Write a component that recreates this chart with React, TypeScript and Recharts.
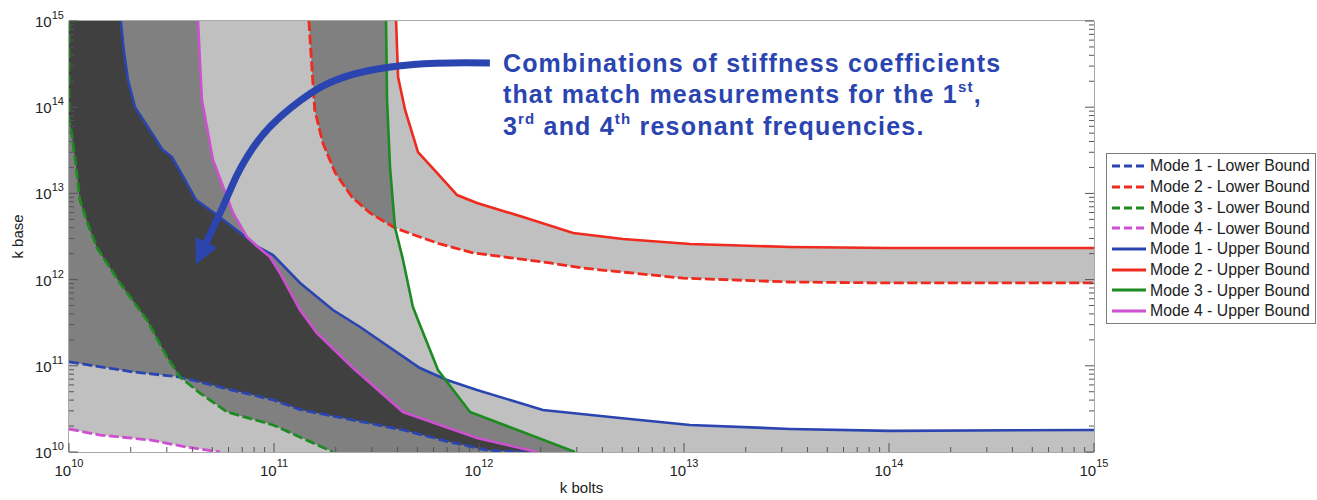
import React from "react";
import { ComposedChart, Scatter, XAxis, YAxis, Legend } from "recharts";

type Pt = [number, number];

// stiffness pairs [k bolts, k base]
const mode1Lower: Pt[] = [
  [1e10, 1.11e11], [2.05e10, 8.5e10], [3.48e10, 7.41e10], [6.3e10, 5.2e10], [1.0e11, 4.0e10],
  [1.34e11, 3.1e10], [2.43e11, 2.35e10], [4.26e11, 1.8e10], [6.8e11, 1.35e10], [1.09e12, 1.05e10], [1.68e12, 1e10],
];
const mode1Upper: Pt[] = [
  [1.79e10, 1e15], [1.85e10, 4.6e14], [1.94e10, 2.07e14], [2.1e10, 1.0e14], [2.48e10, 5.44e13], [2.87e10, 3.18e13],
  [3.18e10, 2.64e13], [3.68e10, 1.43e13], [4.17e10, 8.38e12], [5.04e10, 6.08e12], [7.38e10, 3.04e12], [8.35e10, 2.39e12],
  [9.89e10, 1.93e12], [1.34e11, 9.14e11], [1.94e11, 4.44e11], [2.63e11, 2.82e11], [5.15e11, 9.42e10], [6.98e11, 6.84e10],
  [9.78e11, 5.24e10], [2.05e12, 3.07e10], [4.87e12, 2.48e10], [1.07e13, 2.06e10], [3.29e13, 1.85e10], [1.01e14, 1.76e10],
  [1e15, 1.8e10],
];
const mode2Lower: Pt[] = [
  [1.48e11, 1e15], [1.53e11, 2.93e14], [1.58e11, 9.29e13], [1.73e11, 3.85e13], [1.99e11, 1.73e13], [2.4e11, 9.08e12],
  [2.94e11, 5.93e12], [3.89e11, 3.97e12], [5.15e11, 3.12e12], [6.45e11, 2.59e12], [9.35e11, 2.04e12], [2.22e12, 1.56e12],
  [3.21e12, 1.36e12], [9.89e12, 1.04e12], [3.29e13, 9.38e11], [1.01e14, 9.14e11], [1e15, 9.14e11],
];
const mode2Upper: Pt[] = [
  [3.94e11, 1e15], [4.03e11, 2.24e14], [4.36e11, 9.29e13], [5.04e11, 3.02e13], [6.24e11, 1.73e13], [7.82e11, 9.57e12],
  [9.78e11, 7.74e12], [1.64e12, 5.32e12], [2.88e12, 3.47e12], [5.04e12, 2.96e12], [1.07e13, 2.59e12], [3.29e13, 2.39e12],
  [1.01e14, 2.33e12], [1e15, 2.33e12],
];
const mode3Lower: Pt[] = [
  [1e10, 1e15], [1e10, 7.11e13], [1.03e10, 5.02e13], [1.08e10, 2.13e13], [1.13e10, 8.38e12], [1.24e10, 4.3e12],
  [1.37e10, 2.33e12], [1.77e10, 9.14e11], [2.4e10, 3.4e11], [3.01e10, 1.26e11], [3.48e10, 7.41e10], [4.35e10, 4.83e10],
  [5.9e10, 2.91e10], [9.89e10, 2.06e10], [1.94e11, 1e10],
];
const mode3Upper: Pt[] = [
  [3.52e11, 1e15], [3.56e11, 1.21e14], [3.68e11, 2.02e13], [3.89e11, 4.07e12], [4.26e11, 1.69e12], [4.76e11, 4.81e11],
  [5.04e11, 3.4e11], [6.31e11, 8.94e10], [9.04e11, 2.91e10], [2.94e12, 1e10],
];
const mode4Lower: Pt[] = [
  [1e10, 1.85e10], [1.42e10, 1.57e10], [2.48e10, 1.38e10], [3.76e10, 1.14e10], [5.45e10, 1e10],
];
const mode4Upper: Pt[] = [
  [4.26e10, 1e15], [4.35e10, 3.53e14], [4.45e10, 1.21e14], [5.04e10, 2.44e13], [6.31e10, 5.93e12], [7.38e10, 3.12e12],
  [8.35e10, 2.39e12], [9.56e10, 1.83e12], [1.07e11, 1.19e12], [1.34e11, 4.44e11], [1.62e11, 2.4e11], [2.43e11, 9.42e10],
  [4.26e11, 2.91e10], [9.78e11, 1.45e10], [1.92e12, 1e10],
];

// where the bounds cross each other
const crossM1M4: Pt = [8.35e10, 2.39e12];
const crossM1M3: Pt = [6.75e11, 7.2e10];
const crossM2M3: Pt = [3.89e11, 4.0e12];
const crossLow: Pt = [3.48e10, 7.41e10];

const arrowPath: Pt[] = [
  [1.13e12, 3.26e14], [6.45e11, 3.34e14], [3.56e11, 2.93e14], [2.27e11, 2.36e14], [1.55e11, 1.58e14],
  [9.25e10, 5.89e13], [6.82e10, 2.02e13], [5.64e10, 6.95e12], [4.56e10, 2.39e12],
];

const majorTicks = [1e10, 1e11, 1e12, 1e13, 1e14, 1e15];
const minorSteps = [2, 3, 4, 5, 6, 7, 8, 9];
const DOMAIN: [number, number] = [1e10, 1e15];

const BLUE = "#2b45b0";
const RED = "#ef2a1f";
const GREEN = "#1d8a22";
const MAGENTA = "#cc50cf";
const LIGHT = "#c0c0c0";
const MID = "#808080";
const DARK = "#404040";
const AXIS = "#555";
const FONT = "'Liberation Sans', Arial, sans-serif";
const DASH = "10 3.5";

const seg = (c: Pt[], lo: number, hi: number) => c.filter(([x]) => x >= lo && x <= hi);
const rev = (c: Pt[]) => [...c].reverse();
const rows = (c: Pt[]) => c.map(([x, y]) => ({ x, y }));

const regions = [
  { fill: LIGHT, points: [[1e10, 1e10], [1e10, 1e15], [1e15, 1e15], [1e15, 1e10]] as Pt[] },
  { fill: "#ffffff", points: [...mode2Upper, [1e15, 1e15]] as Pt[] },
  {
    fill: "#ffffff",
    points: [crossM2M3, ...seg(mode2Lower, 3.9e11, 1e15), ...rev(seg(mode1Upper, 6.76e11, 1e15)), crossM1M3,
      ...rev(seg(mode3Upper, 3.9e11, 6.74e11))],
  },
  { fill: "#ffffff", points: [...mode4Lower, [1e10, 1e10]] as Pt[] },
  {
    fill: MID,
    points: [[1e10, 1e15] as Pt, ...seg(mode4Upper, 0, crossM1M4[0]), ...seg(mode1Upper, crossM1M4[0], 6.74e11), crossM1M3,
      ...seg(mode3Upper, 6.76e11, 1e15), ...rev(seg(mode3Lower, crossLow[0], 1e15)), ...rev(seg(mode1Lower, 0, crossLow[0]))],
  },
  { fill: MID, points: [...seg(mode2Lower, 0, 3.89e11), crossM2M3, ...rev(seg(mode3Upper, 0, 3.88e11))] },
  {
    fill: DARK,
    points: [...seg(mode1Upper, 0, crossM1M4[0]), ...seg(mode4Upper, crossM1M4[0], 1e15),
      ...rev(seg(mode1Lower, crossLow[0], 1e15)), ...rev(seg(mode3Lower, 0, crossLow[0]))],
  },
];

const series = [
  { name: "Mode 1 - Lower Bound", points: mode1Lower, color: BLUE, dashed: true },
  { name: "Mode 2 - Lower Bound", points: mode2Lower, color: RED, dashed: true },
  { name: "Mode 3 - Lower Bound", points: mode3Lower, color: GREEN, dashed: true },
  { name: "Mode 4 - Lower Bound", points: mode4Lower, color: MAGENTA, dashed: true },
  { name: "Mode 1 - Upper Bound", points: mode1Upper, color: BLUE, dashed: false },
  { name: "Mode 2 - Upper Bound", points: mode2Upper, color: RED, dashed: false },
  { name: "Mode 3 - Upper Bound", points: mode3Upper, color: GREEN, dashed: false },
  { name: "Mode 4 - Upper Bound", points: mode4Upper, color: MAGENTA, dashed: false },
];

const ticks = majorTicks.flatMap((m, i) => (i < majorTicks.length - 1 ? [m, ...minorSteps.map((s) => s * m)] : [m]));
const isMajor = (v: number) => majorTicks.includes(v);
const expOf = (v: number) => Math.round(Math.log10(v));

const noShape = () => <g />;

function BottomTick(props: any) {
  const { x, y, payload } = props;
  const major = isMajor(payload.value);
  return (
    <g>
      <line x1={x} x2={x} y1={y} y2={y - (major ? 9 : 5)} stroke={AXIS} />
      {major && (
        <text x={x} y={y + 24} textAnchor="middle" fontSize={15} fill="#222" fontFamily={FONT}>
          10<tspan dy={-9} fontSize={11}>{expOf(payload.value)}</tspan>
        </text>
      )}
    </g>
  );
}

function TopTick(props: any) {
  const { x, y, payload } = props;
  return <line x1={x} x2={x} y1={y} y2={y + (isMajor(payload.value) ? 9 : 5)} stroke={AXIS} />;
}

function LeftTick(props: any) {
  const { x, y, payload } = props;
  const major = isMajor(payload.value);
  return (
    <g>
      <line x1={x} x2={x + (major ? 9 : 5)} y1={y} y2={y} stroke={AXIS} />
      {major && (
        <text x={x - 34} y={y + 6} fontSize={15} fill="#222" fontFamily={FONT}>
          10<tspan dy={-8} fontSize={11}>{expOf(payload.value)}</tspan>
        </text>
      )}
    </g>
  );
}

function RightTick(props: any) {
  const { x, y, payload } = props;
  return <line x1={x} x2={x - (isMajor(payload.value) ? 9 : 5)} y1={y} y2={y} stroke={AXIS} />;
}

function smoothPath(pts: { x: number; y: number }[]) {
  let d = `M${pts[0].x},${pts[0].y}`;
  for (let i = 1; i < pts.length - 1; i++) {
    const mx = (pts[i].x + pts[i + 1].x) / 2;
    const my = (pts[i].y + pts[i + 1].y) / 2;
    d += ` Q${pts[i].x},${pts[i].y} ${mx},${my}`;
  }
  const last = pts[pts.length - 1];
  return d + ` L${last.x},${last.y}`;
}

function renderArrow(props: any) {
  const pts = props.points as { x: number; y: number }[];
  if (!pts || pts.length < 2) return <g />;
  const x0 = pts[0].x + 13;
  const y0 = pts[0].y;
  const txt = { x: x0, fill: BLUE, fontSize: 25, fontWeight: 700, fontFamily: FONT, letterSpacing: 1.2 };
  return (
    <g>
      <defs>
        <marker id="arrowHead" markerUnits="userSpaceOnUse" markerWidth={26} markerHeight={26} refX={5} refY={12} orient="auto">
          <path d="M0,0 L24,12 L0,24 z" fill={BLUE} />
        </marker>
      </defs>
      <path d={smoothPath(pts)} fill="none" stroke={BLUE} strokeWidth={7} markerEnd="url(#arrowHead)" />
      <text {...txt} y={y0 + 9}>Combinations of stiffness coefficients</text>
      <text {...txt} y={y0 + 40}>
        that match measurements for the 1<tspan fontSize={15} dy={-11}>st</tspan>
        <tspan dy={11}>,</tspan>
      </text>
      <text {...txt} y={y0 + 72}>
        3<tspan fontSize={15} dy={-11}>rd</tspan>
        <tspan dy={11}> and 4</tspan>
        <tspan fontSize={15} dy={-11}>th</tspan>
        <tspan dy={11}> resonant frequencies.</tspan>
      </text>
    </g>
  );
}

function LegendBox() {
  return (
    <div
      style={{
        width: 210, height: 171, border: "1px solid #7a7a7a", background: "#fff",
        boxSizing: "border-box", padding: "2px 0 0 5px", fontFamily: FONT,
      }}
    >
      {series.map((s) => (
        <div key={s.name} style={{ display: "flex", alignItems: "center", height: 20.7 }}>
          <svg width={34} height={6}>
            <line x1={0} x2={34} y1={3} y2={3} stroke={s.color} strokeWidth={3} strokeDasharray={s.dashed ? "8 4" : undefined} />
          </svg>
          <span style={{ marginLeft: 4, fontSize: 15.8, color: "#222", lineHeight: 1, whiteSpace: "nowrap" }}>{s.name}</span>
        </div>
      ))}
    </div>
  );
}

export default function App() {
  return (
    <div style={{ position: "absolute", left: 0, top: 0, fontFamily: FONT, background: "#fff" }}>
      <ComposedChart width={1317} height={500} margin={{ top: 0, right: 0, bottom: 0, left: 0 }}>
        {regions.map((r, i) => (
          <Scatter
            key={`region-${i}`}
            data={rows(r.points)}
            fill={r.fill}
            line={{ fill: r.fill, stroke: "none" }}
            shape={noShape}
            legendType="none"
            isAnimationActive={false}
          />
        ))}
        {series.map((s) => (
          <Scatter
            key={s.name}
            name={s.name}
            data={rows(s.points)}
            fill={s.color}
            line={{ stroke: s.color, strokeWidth: s.dashed ? 2.8 : 2.6, strokeDasharray: s.dashed ? DASH : undefined, fill: "none" }}
            shape={noShape}
            isAnimationActive={false}
          />
        ))}
        <Scatter data={rows(arrowPath)} line={renderArrow} shape={noShape} legendType="none" isAnimationActive={false} />
        <XAxis
          dataKey="x" type="number" scale="log" domain={DOMAIN} allowDataOverflow ticks={ticks} interval={0}
          height={48} tickSize={0} tickMargin={0} tickLine={false} tick={BottomTick} axisLine={{ stroke: AXIS }}
          label={{ value: "k bolts", position: "insideBottom", offset: 7, fill: "#222", fontSize: 15 }}
        />
        <XAxis
          xAxisId="top" orientation="top" type="number" scale="log" domain={DOMAIN} allowDataOverflow ticks={ticks}
          interval={0} height={21} tickSize={0} tickMargin={0} tickLine={false} tick={TopTick} axisLine={{ stroke: AXIS }}
        />
        <YAxis
          dataKey="y" type="number" scale="log" domain={DOMAIN} allowDataOverflow ticks={ticks} interval={0}
          width={69} tickSize={0} tickMargin={0} tickLine={false} tick={LeftTick} axisLine={{ stroke: AXIS }}
          label={{ value: "k base", angle: -90, position: "insideLeft", offset: 18, fill: "#222", fontSize: 15, style: { textAnchor: "middle" } }}
        />
        <YAxis
          yAxisId="right" orientation="right" type="number" scale="log" domain={DOMAIN} allowDataOverflow ticks={ticks}
          interval={0} width={223} tickSize={0} tickMargin={0} tickLine={false} tick={RightTick} axisLine={{ stroke: AXIS }}
        />
        <Legend
          layout="vertical" align="center" verticalAlign="middle"
          wrapperStyle={{ left: 1106, top: 153, width: 211, height: 172 }}
          content={() => <LegendBox />}
        />
      </ComposedChart>
    </div>
  );
}
